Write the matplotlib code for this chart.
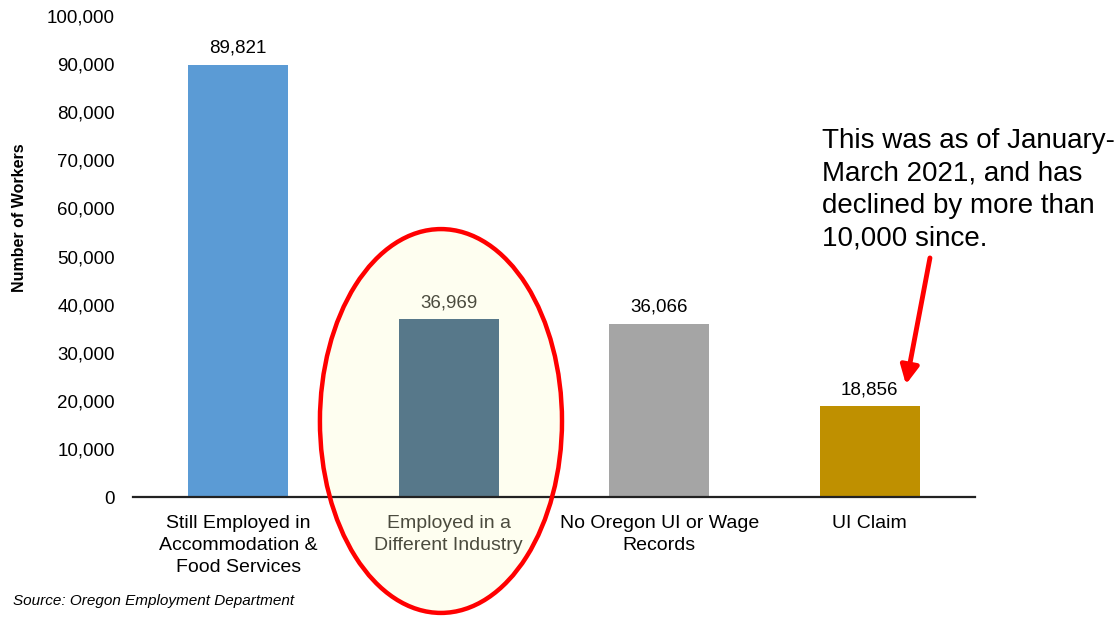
import matplotlib
matplotlib.use("Agg")
import matplotlib.pyplot as plt
from matplotlib.patches import Ellipse
from matplotlib.ticker import FuncFormatter

plt.rcParams['font.family'] = ['Liberation Sans', 'DejaVu Sans']

categories = ["Still Employed in\nAccommodation &\nFood Services",
              "Employed in a\nDifferent Industry",
              "No Oregon UI or Wage\nRecords",
              "UI Claim"]
workers = [89821, 36969, 36066, 18856]
bar_colors = ["#5B9BD5", "#57788A", "#A5A5A5", "#BF9000"]
yticks = list(range(0, 100001, 10000))

fig = plt.figure(figsize=(11.18, 6.17), dpi=100)
ax = fig.add_axes([133 / 1118, 1 - 497 / 617, 842 / 1118, 481 / 617])

x = range(len(categories))

# highlight ellipse behind the second bar
hl = Ellipse((0.963, 15800), 1.15, 79800, facecolor="#FEFEF0", edgecolor="none",
             zorder=0, clip_on=False)
ax.add_patch(hl)

bars = ax.bar(x, workers, width=0.475, color=bar_colors, zorder=2)

for i, (b, v) in enumerate(zip(bars, workers)):
    col = "#4b4b3e" if i == 1 else "black"
    ax.text(b.get_x() + b.get_width() / 2, v + 1700, f"{v:,}",
            ha="center", va="bottom", fontsize=13.5, color=col, zorder=5)

ax.set_xlim(-0.5, 3.5)
ax.set_ylim(0, 100000)
ax.set_yticks(yticks)
ax.yaxis.set_major_formatter(FuncFormatter(lambda v, p: f"{int(v):,}"))
ax.set_xticks(list(x))
ax.set_xticklabels(categories, fontsize=14, linespacing=1.38)
ax.get_xticklabels()[1].set_color("#4b4b3e")
ax.tick_params(axis="y", length=0, labelsize=13.5, pad=13)
ax.tick_params(axis="x", length=0, pad=13)

for s in ["top", "right", "left"]:
    ax.spines[s].set_visible(False)
ax.spines["bottom"].set_linewidth(1.6)
ax.spines["bottom"].set_color("#222222")
ax.spines["bottom"].set_zorder(3)

ax.set_ylabel("Number of Workers", fontsize=11.5, fontweight="bold")
ax.yaxis.set_label_coords(-0.126, 0.58)

# ellipse outline on top
ring = Ellipse((0.963, 15800), 1.15, 79800, facecolor="none", edgecolor="#FF0000",
               linewidth=3.2, zorder=6, clip_on=False)
ax.add_patch(ring)

fig.text(822 / 1118, 1 - 128 / 617,
         "This was as of January-\nMarch 2021, and has\ndeclined by more than\n10,000 since.",
         fontsize=20, va="top", ha="left", linespacing=1.32)

ax.annotate("", xy=(3.172, 23400), xytext=(3.286, 49700),
            arrowprops=dict(arrowstyle="-|>,head_length=1.1,head_width=0.55",
                            color="#FF0000", lw=3.5, shrinkA=0, shrinkB=0),
            zorder=7)

fig.text(13 / 1118, 1 - 601 / 617, "Source: Oregon Employment Department",
         fontsize=11, style="italic", va="center", ha="left")

fig.savefig("out.png", dpi=100)
